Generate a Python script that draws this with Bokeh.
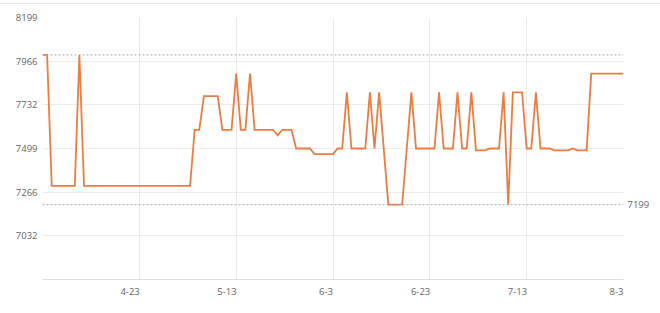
from bokeh.plotting import figure
from bokeh.models import Range1d, FixedTicker, Span, LinearAxis, Div
from bokeh.layouts import column
from bokeh.embed import file_html
from bokeh.resources import INLINE

# ---- data ----
prices = [
    7999, 7999, 7299, 7299, 7299, 7299, 7299, 7299, 7999, 7299,
    7299, 7299, 7299, 7299, 7299, 7299, 7299, 7299, 7299, 7299,
    7299, 7299, 7299, 7299, 7299, 7299, 7299, 7299, 7299, 7299,
    7299, 7299, 7299, 7599, 7599, 7779, 7779, 7779, 7779, 7599,
    7599, 7599, 7899, 7599, 7599, 7899, 7599, 7599, 7599, 7599,
    7599, 7569, 7599, 7599, 7599, 7499, 7499, 7499, 7499, 7469,
    7469, 7469, 7469, 7469, 7499, 7499, 7799, 7499, 7499, 7499,
    7499, 7799, 7499, 7799, 7499, 7199, 7199, 7199, 7199, 7499,
    7799, 7499, 7499, 7499, 7499, 7499, 7799, 7499, 7499, 7499,
    7799, 7499, 7499, 7799, 7489, 7489, 7489, 7499, 7499, 7499,
    7799, 7199, 7799, 7799, 7799, 7499, 7499, 7799, 7499, 7499,
    7499, 7489, 7489, 7489, 7489, 7499, 7489, 7489, 7489, 7899,
    7899, 7899, 7899, 7899, 7899, 7899, 7899,
]
x_index = list(range(len(prices)))

x_tick_positions = [21, 42, 63, 84, 105, 126]
x_tick_labels = ["4-23", "5-13", "6-3", "6-23", "7-13", "8-3"]
x_grid_positions = [0, 21, 42, 63, 84, 105, 126]

y_min, y_max = 6799, 8199
y_tick_values = [7032.333, 7265.667, 7499.0, 7732.333, 7965.667, 8199.0]
y_tick_labels = ["7032", "7266", "7499", "7732", "7966", "8199"]

max_price = 7999
min_price = 7199
min_label = "7199"

LINE_COLOR = "#ee7b3f"
GRID_COLOR = "#ececec"
TEXT_COLOR = "#666666"
FONT = "Open Sans"
FONT_SIZE = "9.5px"

p = figure(
    width=660, height=308,
    x_range=Range1d(0, len(prices) - 1),
    y_range=Range1d(y_min, y_max),
    output_backend="svg", toolbar_location=None,
    min_border_left=42, min_border_right=37,
    min_border_top=13, min_border_bottom=33,
)
p.outline_line_color = None
p.background_fill_color = "white"
p.border_fill_color = "white"

# grids
p.xgrid.ticker = FixedTicker(ticks=x_grid_positions)
p.xgrid.grid_line_color = GRID_COLOR
p.xgrid.grid_line_width = 1
p.ygrid.ticker = FixedTicker(ticks=y_tick_values)
p.ygrid.grid_line_color = GRID_COLOR
p.ygrid.grid_line_width = 1

# x axis: labels sit right-aligned against their grid line, so shift each
# label's centre left by about half its width (in category units)
label_centres = [pos - 0.5 * len(txt) for pos, txt in zip(x_tick_positions, x_tick_labels)]
xa = p.xaxis[0]
xa.ticker = FixedTicker(ticks=label_centres)
xa.major_label_overrides = {k: v for k, v in zip(label_centres, x_tick_labels)}
xa.major_tick_line_color = None
xa.minor_tick_line_color = None
xa.major_tick_in = 0
xa.major_tick_out = 0
xa.axis_line_color = "#e0e0e0"
xa.major_label_standoff = 8
xa.major_label_text_color = TEXT_COLOR
xa.major_label_text_font = FONT
xa.major_label_text_font_size = FONT_SIZE

# y axis
ya = p.yaxis[0]
ya.ticker = FixedTicker(ticks=y_tick_values)
ya.major_label_overrides = {k: v for k, v in zip(y_tick_values, y_tick_labels)}
ya.major_tick_line_color = None
ya.minor_tick_line_color = None
ya.major_tick_in = 0
ya.major_tick_out = 0
ya.axis_line_color = None
ya.major_label_standoff = 5
ya.major_label_text_color = TEXT_COLOR
ya.major_label_text_font = FONT
ya.major_label_text_font_size = FONT_SIZE

# right axis carrying only the minimum mark label
ra = LinearAxis(ticker=FixedTicker(ticks=[min_price]),
                major_label_overrides={min_price: min_label})
ra.major_tick_line_color = None
ra.minor_tick_line_color = None
ra.major_tick_in = 0
ra.major_tick_out = 0
ra.axis_line_color = None
ra.major_label_standoff = 4
ra.major_label_text_color = TEXT_COLOR
ra.major_label_text_font = FONT
ra.major_label_text_font_size = FONT_SIZE
p.add_layout(ra, "right")

# max / min mark lines
p.add_layout(Span(location=max_price, dimension="width", line_color="#aaaaaa",
                  line_width=1, line_dash="2 2"))
p.add_layout(Span(location=min_price, dimension="width", line_color="#aaaaaa",
                  line_width=1, line_dash="2 2"))

p.line(x_index, prices, line_color=LINE_COLOR, line_width=1.8, line_join="miter")

top_rule = Div(text="", width=660, height=4, margin=0,
               styles={"border-bottom": "1px solid #e6e6e6"})

layout = column(top_rule, p, spacing=0)
open("out.html", "w").write(file_html(layout, INLINE))
